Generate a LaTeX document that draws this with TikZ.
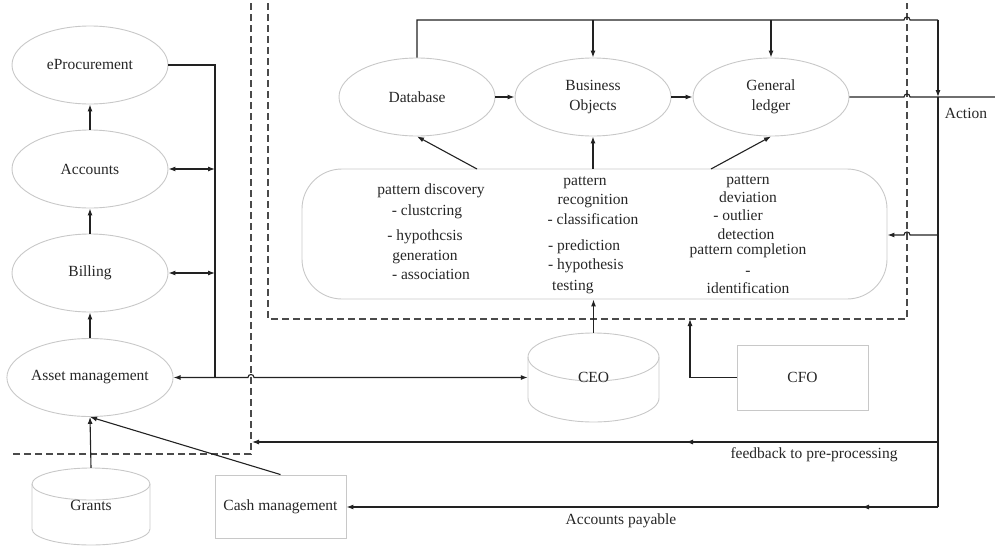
\documentclass[tikz,border=0pt]{standalone}
\usepackage{fontspec}
\setmainfont{Liberation Serif}
\usetikzlibrary{arrows.meta,shapes.geometric,calc}
\definecolor{ln}{HTML}{222222}
\definecolor{shp}{HTML}{C8C8C8}
\definecolor{dsh}{HTML}{4A4A4A}
\begin{document}
\begin{tikzpicture}[x=1pt,y=-1pt,
  every node/.style={font=\fontsize{15.5}{20}\selectfont, text=black!85},
  ell/.style={ellipse, draw=shp, line width=0.9pt, minimum width=156pt, minimum height=78pt, inner sep=0pt, align=center},
  box/.style={rectangle, draw=shp, line width=0.9pt, inner sep=0pt},
  cyl/.style={draw=shp, line width=0.9pt},
  conn/.style={draw=ln, line width=1.1pt},
  arr/.style={conn, -{Latex[length=7pt,width=5pt]}},
  darr/.style={conn, {Latex[length=7pt,width=5pt]}-{Latex[length=7pt,width=5pt]}},
  dashln/.style={draw=dsh, line width=1.3pt, dash pattern=on 7pt off 4pt},
  txt/.style={inner sep=0pt, text height=11pt, text depth=3.5pt},
]
\useasboundingbox (0,0) rectangle (995,546);

% dashed boundaries
\draw[dashln] (251,3) -- (251,454) -- (12,454);
\draw[dashln] (268,3) -- (268,319) -- (907,319) -- (907,3);

% left column
\node[ell] (eproc) at (90,65) {eProcurement};
\node[ell] (acc) at (90,169) {Accounts};
\node[ell] (bill) at (90,273) {Billing};
\node[ell] (asset) at (90,377.5) {Asset management};

% top row
\node[ell] (db) at (417,97) {Database};
\node[ell] (bo) at (593,97) {Business\\Objects};
\node[ell] (gl) at (771,97) {General\\ledger};

% pattern box
\node[draw=shp, line width=0.9pt, rounded corners=40pt, minimum width=585pt, minimum height=130pt, inner sep=0pt] (pat) at (594.5,234) {};
\node[txt] (c1a) at (431,191) {pattern discovery};
\node[txt] (c1b) at (427,212) {- clustcring};
\node[txt] (c1c) at (425,237) {- hypothcsis};
\node[txt] (c1d) at (425,257) {generation};
\node[txt] (c1e) at (431,276) {- association};
\node[txt] (c2a) at (585,182) {pattern};
\node[txt] (c2b) at (593,201) {recognition};
\node[txt] (c2c) at (593,221) {- classification};
\node[txt, anchor=west] (c2d) at (548,247) {- prediction};
\node[txt, anchor=west] (c2e) at (548,266) {- hypothesis};
\node[txt, anchor=west] (c2f) at (552,287) {testing};
\node[txt] (c3a) at (748,181) {pattern};
\node[txt] (c3b) at (748,199) {deviation};
\node[txt] (c3c) at (738,217) {- outlier};
\node[txt] (c3d) at (746,236) {detection};
\node[txt] (c3e) at (748,251) {pattern completion};
\node[txt] (c3f) at (748,272) {-};
\node[txt] (c3g) at (748,290) {identification};

% CEO cylinder
\draw[cyl] (593.5,357) ellipse [x radius=65.5, y radius=24];
\draw[cyl] (528,357) -- (528,398) arc[start angle=180, end angle=0, x radius=65.5, y radius=24] -- (659,357);
\node[minimum width=131pt, minimum height=89pt, inner sep=0pt] (ceo) at (593.5,377.5) {CEO};

% Grants cylinder
\draw[cyl] (91,484) ellipse [x radius=59, y radius=16];
\draw[cyl] (32,484) -- (32,529) arc[start angle=180, end angle=0, x radius=59, y radius=16] -- (150,484);
\node[minimum width=118pt, minimum height=77pt, inner sep=0pt, text height=11pt, text depth=3.5pt] (grants) at (91,506.5) {Grants};

% boxes
\node[box, minimum width=131pt, minimum height=63pt] (cash) at (280.5,506.5) {Cash management};
\node[box, minimum width=131pt, minimum height=65pt] (cfo) at (802.5,377.5) {CFO};

% coordinates
\coordinate (busT) at (215,65);
\coordinate (busB) at (215,377.5);
\coordinate (topL) at (417,20);
\coordinate (topR) at (938,20);
\coordinate (actJ) at (938,97);
\coordinate (actE) at (995,97);
\coordinate (patIn) at (938,235);
\coordinate (fbR) at (938,442);
\coordinate (fbL) at (252,442);
\coordinate (apR) at (938,507);
\coordinate (pdb) at (477,169);
\coordinate (pgl) at (711,169);
\coordinate (cfoB) at (690,377.5);
\coordinate (cfoT) at (690,319);

% left column connectors
\draw[arr] (acc.north) -- (eproc.south);
\draw[arr] (bill.north) -- (acc.south);
\draw[arr] (asset.north) -- (bill.south);
\draw[arr] (grants.north) -- (asset.south);
\draw[arr] (cash.north) -- (asset.south);
\draw[conn] (eproc.east) -- (busT) -- (busB);
\draw[darr] (acc.east) -- (acc.east -| busT);
\draw[darr] (bill.east) -- (bill.east -| busT);
\draw[darr] (asset.east) -- (248,377.5) .. controls (248,373.5) and (254,373.5) .. (254,377.5) -- (ceo.west);

% top loop
\draw[conn] (db.north) -- (topL) -- (904,20) .. controls (904,16) and (910,16) .. (910,20) -- (topR);
\draw[arr] (topR) -- (actJ);
\draw[conn] (actJ) -- (apR);
\draw[arr] (bo.north |- topL) -- (bo.north);
\draw[arr] (gl.north |- topL) -- (gl.north);
\draw[arr] (db.east) -- (bo.west);
\draw[arr] (bo.east) -- (gl.west);
\draw[conn] (gl.east) -- (904,97) .. controls (904,93) and (910,93) .. (910,97) -- (actE);
\node[txt] (action) at (966,115) {Action};

% pattern connectors
\draw[arr] (patIn) -- (910,235) .. controls (910,231) and (904,231) .. (904,235) -- (pat.east |- patIn);
\draw[arr] (pdb) -- (db.south);
\draw[arr] (pat.north -| bo.south) -- (bo.south);
\draw[arr] (pgl) -- (gl.south);
\draw[arr] (ceo.north) -- (pat.south -| ceo.north);
\draw[arr] (cfo.west) -- (cfoB) -- (cfoT);

% feedback and payable
\draw[arr] (fbR) -- (fbL);
\draw[arr] (700,442) -- (686,442);
\node[txt] (fbtxt) at (814,455) {feedback to pre-processing};
\draw[arr] (apR) -- (cash.east |- apR);
\draw[arr] (876,507) -- (862,507);
\node[txt] (aptxt) at (621,521) {Accounts payable};
\end{tikzpicture}
\end{document}
